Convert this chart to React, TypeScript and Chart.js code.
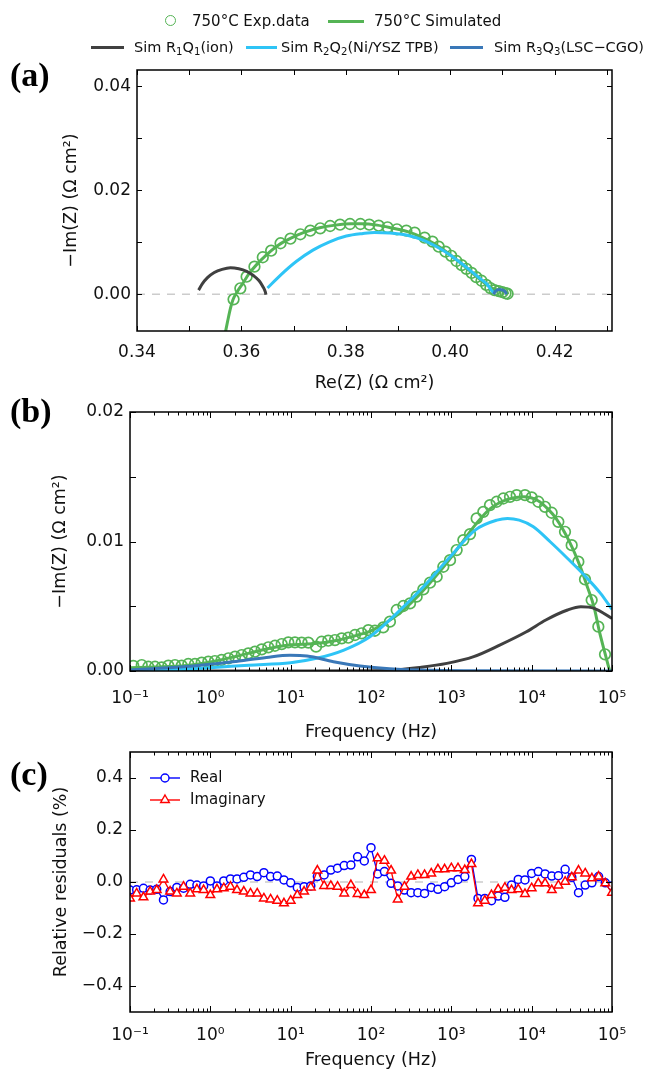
import React, { useEffect, useRef } from 'react';
import { Chart, registerables } from 'chart.js';
Chart.register(...registerables);

const FONT = "'DejaVu Sans', sans-serif";
Chart.defaults.font.family = FONT;
Chart.defaults.color = '#111';

// ---------------- Panel (a): Nyquist ----------------
const nyqExpRe = [0.3585, 0.3598, 0.3610, 0.3625, 0.3641, 0.3657, 0.3675, 0.3694, 0.3713, 0.3732, 0.3751, 0.3770, 0.3789, 0.3808, 0.3828, 0.3845, 0.3863, 0.3880, 0.3898, 0.3916, 0.3932, 0.3951, 0.3966, 0.3978, 0.3991, 0.4002, 0.4012, 0.4022, 0.4031, 0.4041, 0.4050, 0.4060, 0.4069, 0.4077, 0.4085, 0.4093, 0.4100, 0.4106, 0.4110];
const nyqExpIm = [-0.00096, 0.00115, 0.00338, 0.00531, 0.00712, 0.00838, 0.00981, 0.01069, 0.01154, 0.01223, 0.01269, 0.01313, 0.01338, 0.01352, 0.01352, 0.01338, 0.01319, 0.01288, 0.0125, 0.01223, 0.01185, 0.01088, 0.01012, 0.00915, 0.00819, 0.0074, 0.0064, 0.0056, 0.0049, 0.0041, 0.0033, 0.0026, 0.0018, 0.0012, 0.0008, 0.0006, 0.0004, 0.0002, 0.0001];

const nyqSimRe = [0.3569, 0.3574, 0.3579, 0.3584, 0.3592, 0.3602, 0.3615, 0.3630, 0.3648, 0.3670, 0.3695, 0.3720, 0.3750, 0.3780, 0.3810, 0.3830, 0.3860, 0.3890, 0.3920, 0.3945, 0.3970, 0.3995, 0.4020, 0.4045, 0.4065, 0.4080, 0.4092, 0.4102, 0.4108, 0.4111];
const nyqSimIm = [-0.0075, -0.0050, -0.0027, -0.0010, 0.0005, 0.0020, 0.0040, 0.0058, 0.0076, 0.0094, 0.0108, 0.0119, 0.0128, 0.0133, 0.01355, 0.01355, 0.0133, 0.0127, 0.0120, 0.0110, 0.0097, 0.0080, 0.0060, 0.0039, 0.0022, 0.0012, 0.0008, 0.0007, 0.0004, 0.0000];

const nyqR1Re = [0.3518, 0.3525, 0.3535, 0.3548, 0.3563, 0.3579, 0.3595, 0.3610, 0.3623, 0.3634, 0.3641, 0.3646, 0.3647];
const nyqR1Im = [0.0008, 0.0020, 0.0032, 0.0042, 0.0048, 0.0051, 0.0049, 0.0044, 0.0036, 0.0026, 0.0015, 0.0004, -0.0001];

const nyqR2Re = [0.3650, 0.3673, 0.3705, 0.3737, 0.3769, 0.3801, 0.3833, 0.3855, 0.3884, 0.3916, 0.3948, 0.3980, 0.3999, 0.4018, 0.4037, 0.4056, 0.4070, 0.4079, 0.4083];
const nyqR2Im = [0.0012, 0.0035, 0.0063, 0.0085, 0.0101, 0.0112, 0.0117, 0.0119, 0.0118, 0.0114, 0.0104, 0.0088, 0.0076, 0.0062, 0.0047, 0.0031, 0.0020, 0.0008, 0.0003];

const nyqR3Re = [0.4083, 0.4087, 0.4094, 0.4101, 0.4106, 0.4108];
const nyqR3Im = [0.0000, 0.0006, 0.0009, 0.0008, 0.0004, 0.0000];

const nyqXTickValues = [0.34, 0.36, 0.38, 0.40, 0.42];
const nyqXTickLabels = ['0.34', '0.36', '0.38', '0.40', '0.42'];
const nyqXTickMarks = [0.34, 0.35, 0.36, 0.37, 0.38, 0.39, 0.40, 0.41, 0.42, 0.43];
const nyqYTickValues = [0, 0.02, 0.04];
const nyqYTickLabels = ['0.00', '0.02', '0.04'];
const nyqYTickMarks = [0, 0.01, 0.02, 0.03, 0.04];

// ---------------- Panel (b): Bode -Im ----------------
const bodeExpFreq = [0.110, 0.140, 0.169, 0.205, 0.248, 0.300, 0.363, 0.440, 0.532, 0.644, 0.780, 0.944, 1.14, 1.38, 1.68, 2.03, 2.46, 2.97, 3.60, 4.36, 5.27, 6.38, 7.73, 9.35, 11.3, 13.7, 16.6, 20.7, 24.3, 29.4, 35.6, 43.2, 52.2, 63.2, 76.5, 92.7, 112, 142, 172, 209, 253, 306, 370, 448, 543, 657, 795, 963, 1165, 1411, 1708, 2067, 2502, 3029, 3667, 4439, 5374, 6506, 8260, 10000, 12106, 14655, 17742, 21478, 26000, 31476, 38105, 46130, 55845, 67606, 81845];
const bodeExpIm = [0.00039, 0.00046, 0.00033, 0.00033, 0.00028, 0.00041, 0.00046, 0.00041, 0.00054, 0.00054, 0.00064, 0.00072, 0.00077, 0.00085, 0.00098, 0.00111, 0.00123, 0.00136, 0.00149, 0.00167, 0.00183, 0.00195, 0.00208, 0.00221, 0.00221, 0.00219, 0.00219, 0.00188, 0.00226, 0.00234, 0.00239, 0.00252, 0.00257, 0.00278, 0.00291, 0.00316, 0.00311, 0.00337, 0.00381, 0.00471, 0.00502, 0.00522, 0.00574, 0.0063, 0.00682, 0.00728, 0.00805, 0.00856, 0.00934, 0.01011, 0.01057, 0.01178, 0.01229, 0.01281, 0.01307, 0.01332, 0.01345, 0.01358, 0.01358, 0.0134, 0.01307, 0.01268, 0.01222, 0.01152, 0.01075, 0.00972, 0.00844, 0.00707, 0.00548, 0.00342, 0.00129];

const bodeSimFreq = [0.1, 0.2, 0.5, 1, 2, 5, 10, 20, 40, 70, 100, 200, 400, 700, 1000, 2000, 3000, 5000, 8000, 12000, 16000, 20000, 30000, 40000, 50000, 60000, 70000, 80000, 90000, 100000];
const bodeSimIm = [0.00025, 0.0003, 0.00042, 0.0007, 0.0011, 0.0017, 0.00202, 0.00212, 0.0024, 0.0028, 0.0031, 0.0042, 0.0059, 0.0076, 0.0088, 0.0113, 0.0125, 0.01325, 0.01345, 0.01315, 0.0125, 0.0118, 0.0099, 0.0081, 0.0064, 0.0049, 0.0030, 0.0016, 0.0004, -0.0006];

const bodeR1Freq = [0.1, 10, 100, 190, 400, 880, 1900, 4000, 8600, 15000, 28000, 41000, 60000, 100000];
const bodeR1Im = [0, 0, 0.00002, 0.00008, 0.00028, 0.00059, 0.00111, 0.002, 0.00303, 0.00394, 0.00471, 0.00496, 0.00484, 0.00406];

const bodeR2Freq = [0.1, 0.3, 1, 3, 10, 21, 46, 97, 209, 450, 960, 2000, 3700, 5000, 7000, 10500, 17000, 28000, 45000, 72000, 100000];
const bodeR2Im = [0.00002, 0.00008, 0.00025, 0.00045, 0.00064, 0.00098, 0.00162, 0.00265, 0.00445, 0.0065, 0.0088, 0.0109, 0.01165, 0.01178, 0.01165, 0.01114, 0.00998, 0.00869, 0.00741, 0.00599, 0.00476];

const bodeR3Freq = [0.1, 0.46, 1.9, 5, 9.8, 16, 34, 73, 170, 600, 2000, 100000];
const bodeR3Im = [0.00008, 0.00033, 0.00072, 0.00105, 0.00121, 0.00116, 0.00072, 0.00039, 0.00018, 0.00005, 0.00001, 0];

const bodeYTickValues = [0, 0.01, 0.02];
const bodeYTickLabels = ['0.00', '0.01', '0.02'];
const bodeYTickMarks = [0, 0.005, 0.01, 0.015, 0.02];

// ---------------- Frequency axis (b, c) ----------------
const freqTickValues = [0.1, 1, 10, 100, 1000, 10000, 100000];
const freqTickLabels = ['10⁻¹', '10⁰', '10¹', '10²', '10³', '10⁴', '10⁵'];
const freqMinorTicks = [
  0.2, 0.3, 0.4, 0.5, 0.6, 0.7, 0.8, 0.9,
  2, 3, 4, 5, 6, 7, 8, 9,
  20, 30, 40, 50, 60, 70, 80, 90,
  200, 300, 400, 500, 600, 700, 800, 900,
  2000, 3000, 4000, 5000, 6000, 7000, 8000, 9000,
  20000, 30000, 40000, 50000, 60000, 70000, 80000, 90000,
];

// ---------------- Panel (c): residuals ----------------
const residFreq = [
  0.1, 0.121, 0.147, 0.178, 0.215, 0.261, 0.316, 0.383, 0.464, 0.562, 0.681, 0.825,
  1, 1.21, 1.47, 1.78, 2.15, 2.61, 3.16, 3.83, 4.64, 5.62, 6.81, 8.25,
  10, 12.1, 14.7, 17.8, 21.5, 26.1, 31.6, 38.3, 46.4, 56.2, 68.1, 82.5,
  100, 121, 147, 178, 215, 261, 316, 383, 464, 562, 681, 825,
  1000, 1210, 1470, 1780, 2150, 2610, 3160, 3830, 4640, 5620, 6810, 8250,
  10000, 12100, 14700, 17800, 21500, 26100, 31600, 38300, 46400, 56200, 68100, 82500,
  100000,
];
const residReal = [
  -0.031, -0.030, -0.024, -0.031, -0.028, -0.069, -0.037, -0.021, -0.024, -0.009, -0.012, -0.015,
  0.004, -0.015, 0.004, 0.012, 0.012, 0.018, 0.027, 0.021, 0.036, 0.021, 0.023, 0.008,
  -0.003, -0.021, -0.018, -0.015, 0.021, 0.027, 0.046, 0.053, 0.063, 0.065, 0.097, 0.081,
  0.132, 0.031, 0.040, -0.005, -0.015, -0.031, -0.041, -0.041, -0.044, -0.021, -0.028, -0.018,
  -0.003, 0.010, 0.021, 0.087, -0.063, -0.063, -0.072, -0.054, -0.059, -0.012, 0.010, 0.008,
  0.033, 0.040, 0.031, 0.023, 0.024, 0.049, 0.018, -0.041, -0.012, -0.003, 0.021, -0.003,
  -0.015,
];
const residImag = [
  -0.063, -0.044, -0.059, -0.037, -0.031, 0.010, -0.037, -0.044, -0.018, -0.044, -0.028, -0.031,
  -0.050, -0.028, -0.024, -0.018, -0.031, -0.037, -0.044, -0.044, -0.063, -0.067, -0.072, -0.082,
  -0.072, -0.050, -0.037, -0.021, 0.044, -0.015, -0.015, -0.018, -0.044, -0.012, -0.046, -0.050,
  -0.031, 0.091, 0.082, 0.044, -0.067, -0.018, 0.021, 0.027, 0.027, 0.033, 0.049, 0.049,
  0.053, 0.053, 0.046, 0.069, -0.082, -0.072, -0.050, -0.028, -0.022, -0.031, -0.028, -0.046,
  -0.024, -0.005, -0.005, -0.031, -0.013, 0.001, 0.018, 0.044, 0.033, 0.014, 0.021, -0.005,
  -0.041,
];
const residYTickValues = [-0.4, -0.2, 0, 0.2, 0.4];
const residYTickLabels = ['−0.4', '−0.2', '0.0', '0.2', '0.4'];

// ---------------- styles ----------------
const GREEN = '#55b455';
const GREY = '#404040';
const SKY = '#2ec4f6';
const STEEL = '#3a78b8';

const zip = (xs: number[], ys: number[]) => xs.map((x, i) => ({ x, y: ys[i] }));

function frameTicks(xMarks: number[], xMinor: number[], yMarks: number[], majLen: number, minLen: number) {
  return {
    id: 'frameTicks',
    afterDatasetsDraw(chart: any) {
      const { ctx, chartArea: a } = chart;
      const xs = chart.scales.x;
      const ys = chart.scales.y;
      ctx.save();
      ctx.strokeStyle = '#000';
      ctx.lineWidth = 1;
      ctx.beginPath();
      const vx = (vals: number[], len: number) => {
        for (const v of vals) {
          const p = Math.round(xs.getPixelForValue(v)) + 0.5;
          if (p < a.left - 1 || p > a.right + 1) continue;
          ctx.moveTo(p, a.bottom); ctx.lineTo(p, a.bottom - len);
          ctx.moveTo(p, a.top); ctx.lineTo(p, a.top + len);
        }
      };
      const vy = (vals: number[], len: number) => {
        for (const v of vals) {
          const p = Math.round(ys.getPixelForValue(v)) + 0.5;
          if (p < a.top - 1 || p > a.bottom + 1) continue;
          ctx.moveTo(a.left, p); ctx.lineTo(a.left + len, p);
          ctx.moveTo(a.right, p); ctx.lineTo(a.right - len, p);
        }
      };
      vx(xMarks, majLen);
      vx(xMinor, minLen);
      vy(yMarks, majLen);
      ctx.stroke();
      ctx.lineWidth = 1.5;
      ctx.strokeRect(a.left, a.top, a.right - a.left, a.bottom - a.top);
      ctx.restore();
    },
  };
}

const zeroLine = {
  id: 'zeroLine',
  beforeDatasetsDraw(chart: any) {
    const { ctx, chartArea: a } = chart;
    const y = chart.scales.y.getPixelForValue(0);
    ctx.save();
    ctx.strokeStyle = '#cccccc';
    ctx.lineWidth = 1.5;
    ctx.setLineDash([8, 7]);
    ctx.beginPath();
    ctx.moveTo(a.left, y);
    ctx.lineTo(a.right, y);
    ctx.stroke();
    ctx.restore();
  },
};

const residLegend = {
  id: 'residLegend',
  afterDraw(chart: any) {
    const { ctx, chartArea: a } = chart;
    const items = [
      { label: 'Real', color: '#0000ff', tri: false, dy: 26 },
      { label: 'Imaginary', color: '#ff0000', tri: true, dy: 48 },
    ];
    ctx.save();
    for (const it of items) {
      const y = a.top + it.dy;
      const x0 = a.left + 20;
      const x1 = a.left + 50;
      const xm = a.left + 35;
      ctx.strokeStyle = it.color;
      ctx.lineWidth = 1.4;
      ctx.beginPath();
      ctx.moveTo(x0, y); ctx.lineTo(x1, y);
      ctx.stroke();
      ctx.fillStyle = '#fff';
      ctx.beginPath();
      if (it.tri) {
        const r = 5;
        ctx.moveTo(xm, y - r);
        ctx.lineTo(xm + r * 0.866, y + r * 0.5);
        ctx.lineTo(xm - r * 0.866, y + r * 0.5);
        ctx.closePath();
      } else {
        ctx.arc(xm, y, 4, 0, Math.PI * 2);
      }
      ctx.fill();
      ctx.stroke();
      ctx.fillStyle = '#111';
      ctx.font = `15px ${FONT}`;
      ctx.textBaseline = 'middle';
      ctx.textAlign = 'left';
      ctx.fillText(it.label, a.left + 60, y);
    }
    ctx.restore();
  },
};

const lineDs = (data: any[], color: string, order: number) => ({
  data,
  showLine: true,
  borderColor: color,
  backgroundColor: color,
  borderWidth: 3,
  pointRadius: 0,
  cubicInterpolationMode: 'monotone',
  fill: false,
  order,
  clip: 0,
});

const common = {
  animation: false,
  responsive: true,
  maintainAspectRatio: false,
  events: [],
};

function xAxis(opts: any) {
  return {
    type: opts.type,
    position: 'bottom',
    min: opts.min,
    max: opts.max,
    afterBuildTicks: (s: any) => { s.ticks = opts.values.map((v: number) => ({ value: v })); },
    afterFit: (s: any) => { s.height = opts.height; },
    grid: { display: false, drawTicks: false },
    border: { display: false },
    ticks: {
      autoSkip: false,
      maxRotation: 0,
      padding: opts.tickPad,
      font: { size: 17 },
      color: '#111',
      callback: (_v: any, i: number) => opts.labels[i],
    },
    title: { display: true, text: opts.title, font: { size: 17.5 }, color: '#111', padding: { top: 0, bottom: opts.titlePad } },
  };
}

function yAxis(opts: any) {
  return {
    type: 'linear',
    position: 'left',
    min: opts.min,
    max: opts.max,
    afterBuildTicks: (s: any) => { s.ticks = opts.values.map((v: number) => ({ value: v })); },
    afterFit: (s: any) => { s.width = opts.width; },
    grid: { display: false, drawTicks: false },
    border: { display: false },
    ticks: {
      autoSkip: false,
      padding: opts.tickPad,
      font: { size: 17 },
      color: '#111',
      callback: (_v: any, i: number) => opts.labels[i],
    },
    title: { display: true, text: opts.title, font: { size: 17.5 }, color: '#111', padding: { top: opts.titlePad, bottom: 0 } },
  };
}

const expPoints = (data: any[]) => ({
  data,
  showLine: false,
  pointStyle: 'circle',
  pointRadius: 5.3,
  pointBorderWidth: 1.7,
  pointBorderColor: GREEN,
  pointBackgroundColor: 'rgba(0,0,0,0)',
  order: 5,
  clip: 0,
});

function configA(): any {
  return {
    type: 'scatter',
    data: {
      datasets: [
        expPoints(zip(nyqExpRe, nyqExpIm)),
        lineDs(zip(nyqSimRe, nyqSimIm), GREEN, 4),
        lineDs(zip(nyqR1Re, nyqR1Im), GREY, 3),
        lineDs(zip(nyqR2Re, nyqR2Im), SKY, 2),
        lineDs(zip(nyqR3Re, nyqR3Im), STEEL, 1),
      ],
    },
    options: {
      ...common,
      layout: { padding: { top: 20, right: 36, bottom: 3, left: 0 } },
      plugins: { legend: { display: false }, tooltip: { enabled: false } },
      scales: {
        x: xAxis({ type: 'linear', min: 0.34, max: 0.431, values: nyqXTickValues, labels: nyqXTickLabels, height: 66, tickPad: 11, title: 'Re(Z) (Ω cm²)', titlePad: 3.5 }),
        y: yAxis({ min: -0.00706, max: 0.04313, values: nyqYTickValues, labels: nyqYTickLabels, width: 137, tickPad: 6, title: '−Im(Z) (Ω cm²)', titlePad: 60.5 }),
      },
    },
    plugins: [zeroLine, frameTicks(nyqXTickMarks, [], nyqYTickMarks, 5, 3)],
  };
}

function configB(): any {
  return {
    type: 'scatter',
    data: {
      datasets: [
        expPoints(zip(bodeExpFreq, bodeExpIm)),
        lineDs(zip(bodeSimFreq, bodeSimIm), GREEN, 4),
        lineDs(zip(bodeR1Freq, bodeR1Im), GREY, 3),
        lineDs(zip(bodeR2Freq, bodeR2Im), SKY, 2),
        lineDs(zip(bodeR3Freq, bodeR3Im), STEEL, 1),
      ],
    },
    options: {
      ...common,
      layout: { padding: { top: 22, right: 36, bottom: 2, left: 0 } },
      plugins: { legend: { display: false }, tooltip: { enabled: false } },
      scales: {
        x: xAxis({ type: 'logarithmic', min: 0.1, max: 100000, values: freqTickValues, labels: freqTickLabels, height: 72, tickPad: 17, title: 'Frequency (Hz)', titlePad: 0 }),
        y: yAxis({ min: 0, max: 0.02, values: bodeYTickValues, labels: bodeYTickLabels, width: 130, tickPad: 6, title: '−Im(Z) (Ω cm²)', titlePad: 49.5 }),
      },
    },
    plugins: [frameTicks(freqTickValues, freqMinorTicks, bodeYTickMarks, 6, 3.5)],
  };
}

function configC(): any {
  return {
    type: 'scatter',
    data: {
      datasets: [
        { data: zip(residFreq, residReal), showLine: true, borderColor: '#0000ff', borderWidth: 1.3, pointStyle: 'circle', pointRadius: 4, pointBorderWidth: 1.5, pointBorderColor: '#0000ff', pointBackgroundColor: '#ffffff', order: 2, clip: 0 },
        { data: zip(residFreq, residImag), showLine: true, borderColor: '#ff0000', borderWidth: 1.3, pointStyle: 'triangle', pointRadius: 5, pointBorderWidth: 1.5, pointBorderColor: '#ff0000', pointBackgroundColor: '#ffffff', order: 1, clip: 0 },
      ],
    },
    options: {
      ...common,
      layout: { padding: { top: 25, right: 36, bottom: 5, left: 0 } },
      plugins: { legend: { display: false }, tooltip: { enabled: false } },
      scales: {
        x: xAxis({ type: 'logarithmic', min: 0.1, max: 100000, values: freqTickValues, labels: freqTickLabels, height: 59, tickPad: 13, title: 'Frequency (Hz)', titlePad: 0 }),
        y: yAxis({ min: -0.5, max: 0.5, values: residYTickValues, labels: residYTickLabels, width: 130, tickPad: 7, title: 'Relative residuals (%)', titlePad: 50.5 }),
      },
    },
    plugins: [zeroLine, frameTicks(freqTickValues, freqMinorTicks, residYTickValues, 6, 3.5), residLegend],
  };
}

const legendText: React.CSSProperties = {
  position: 'absolute',
  fontFamily: FONT,
  color: '#111',
  whiteSpace: 'nowrap',
  lineHeight: '20px',
  height: 20,
};
const subStyle: React.CSSProperties = { fontSize: '0.7em', verticalAlign: '-0.3em', lineHeight: 0 };
const panelLabel: React.CSSProperties = {
  position: 'absolute',
  left: 10,
  fontFamily: "'Liberation Serif', 'Times New Roman', serif",
  fontWeight: 'bold',
  fontSize: 34,
  lineHeight: '34px',
  color: '#000',
};

export default function App() {
  const refA = useRef<HTMLCanvasElement>(null);
  const refB = useRef<HTMLCanvasElement>(null);
  const refC = useRef<HTMLCanvasElement>(null);

  useEffect(() => {
    const charts = [
      new Chart(refA.current as HTMLCanvasElement, configA()),
      new Chart(refB.current as HTMLCanvasElement, configB()),
      new Chart(refC.current as HTMLCanvasElement, configC()),
    ];
    return () => charts.forEach((c) => c.destroy());
  }, []);

  const line = (left: number, top: number, width: number, color: string) => (
    <div style={{ position: 'absolute', left, top, width, height: 3, background: color }} />
  );

  return (
    <div style={{ position: 'absolute', left: 0, top: 0, width: 648, height: 1076, background: '#fff', overflow: 'hidden' }}>
      <div style={{ position: 'absolute', left: 0, top: 50, width: 648, height: 350 }}>
        <canvas ref={refA} />
      </div>
      <div style={{ position: 'absolute', left: 0, top: 390, width: 648, height: 355 }}>
        <canvas ref={refB} />
      </div>
      <div style={{ position: 'absolute', left: 0, top: 727, width: 648, height: 349 }}>
        <canvas ref={refC} />
      </div>

      {/* top legend, row 1 */}
      <div style={{ position: 'absolute', left: 165, top: 15, width: 11, height: 11, border: `1.7px solid ${GREEN}`, borderRadius: '50%', boxSizing: 'border-box' }} />
      <div style={{ ...legendText, left: 192, top: 11, fontSize: 15 }}>750°C Exp.data</div>
      {line(328, 19.5, 36, GREEN)}
      <div style={{ ...legendText, left: 374, top: 11, fontSize: 15 }}>750°C Simulated</div>

      {/* top legend, row 2 */}
      {line(91, 45.5, 33, GREY)}
      <div style={{ ...legendText, left: 134, top: 37, fontSize: 14.5 }}>
        Sim R<sub style={subStyle}>1</sub>Q<sub style={subStyle}>1</sub>(ion)
      </div>
      {line(246, 45.5, 31, SKY)}
      <div style={{ ...legendText, left: 281, top: 37, fontSize: 14.5 }}>
        Sim R<sub style={subStyle}>2</sub>Q<sub style={subStyle}>2</sub>(Ni/YSZ TPB)
      </div>
      {line(450, 45.5, 33, STEEL)}
      <div style={{ ...legendText, left: 494, top: 37, fontSize: 14.5 }}>
        Sim R<sub style={subStyle}>3</sub>Q<sub style={subStyle}>3</sub>(LSC−CGO)
      </div>

      <div style={{ ...panelLabel, top: 58 }}>(a)</div>
      <div style={{ ...panelLabel, top: 394 }}>(b)</div>
      <div style={{ ...panelLabel, top: 757 }}>(c)</div>
    </div>
  );
}
